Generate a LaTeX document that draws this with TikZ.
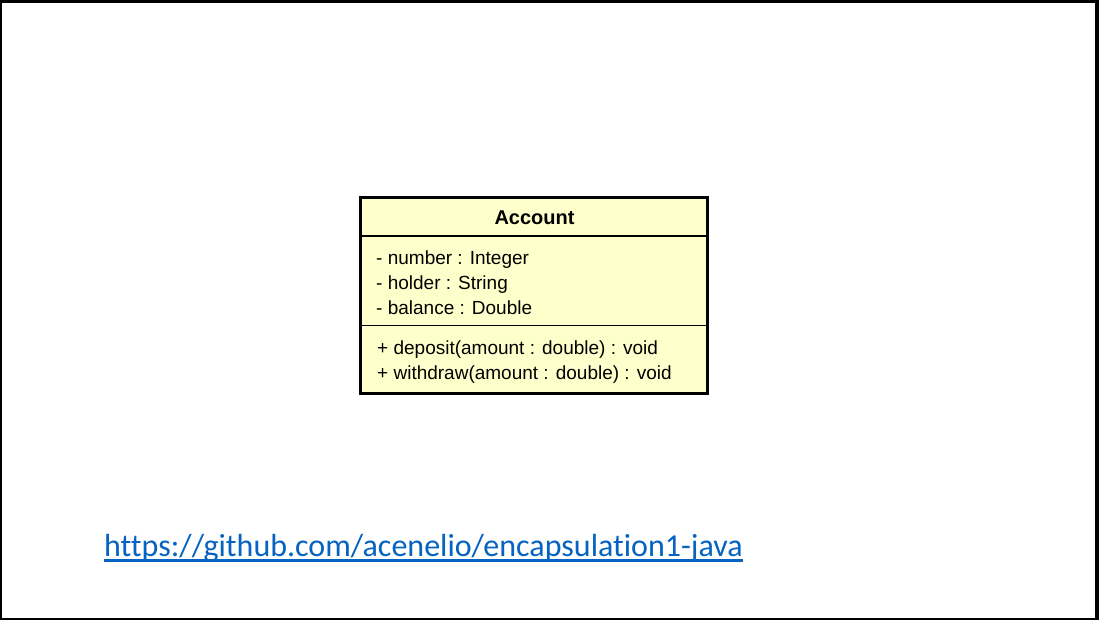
\documentclass[tikz,border=0pt]{standalone}
\usepackage{fontspec}
\setmainfont{Liberation Sans}
\newfontfamily\linkfont[Ligatures={NoCommon,NoRare,NoContextual}]{Carlito}
\usetikzlibrary{positioning,calc}
\definecolor{PaleYellow}{HTML}{FFFFCC}
\definecolor{LinkBlue}{HTML}{0563C1}

\begin{document}
\begin{tikzpicture}[x=1pt,y=-1pt,
  classbox/.style={draw=black,line width=3pt,fill=PaleYellow,minimum width=347pt,minimum height=196pt,inner sep=0pt},
  member/.style={anchor=base west,inner sep=0pt,font=\fontsize{19}{25}\selectfont},
  divider/.style={line width=1.2pt},
  link/.style={anchor=base west,inner sep=0pt,font=\linkfont\fontsize{32}{36}\selectfont,text=LinkBlue}
]
\useasboundingbox (0,0) rectangle (1099,620);
% page frame
\fill[black] (0,0) rectangle (1099,620);
\fill[white] (2,3) rectangle (1095,617.5);

% class Account
\node[classbox] (acc) at (534,295.5) {};
\node[anchor=base,inner sep=0pt,font=\fontsize{20}{24}\selectfont\bfseries] (title) at (534.5,224.3) {Account};
\coordinate (d1) at (0,236);
\coordinate (d2) at (0,325.5);
\draw[divider] (acc.west |- d1) -- (acc.east |- d1);
\draw[divider] (acc.west |- d2) -- (acc.east |- d2);
\foreach \i/\t in {1/{- number : Integer},2/{- holder : String},3/{- balance : Double}}
  \node[member] (attr\i) at (376,239+25*\i) {\t};
\foreach \i/\t in {1/{+ deposit(amount : double) : void},2/{+ withdraw(amount : double) : void}}
  \node[member] (op\i) at (377,329+25*\i) {\t};

% repository link
\node[link] (url) at (104,556) {https://github.com/acenelio/encapsulation1-java};
\draw[LinkBlue,line width=2.5pt] ($(url.base west)+(0,4.5)$) -- ($(url.base east)+(0,4.5)$);
\end{tikzpicture}
\end{document}
